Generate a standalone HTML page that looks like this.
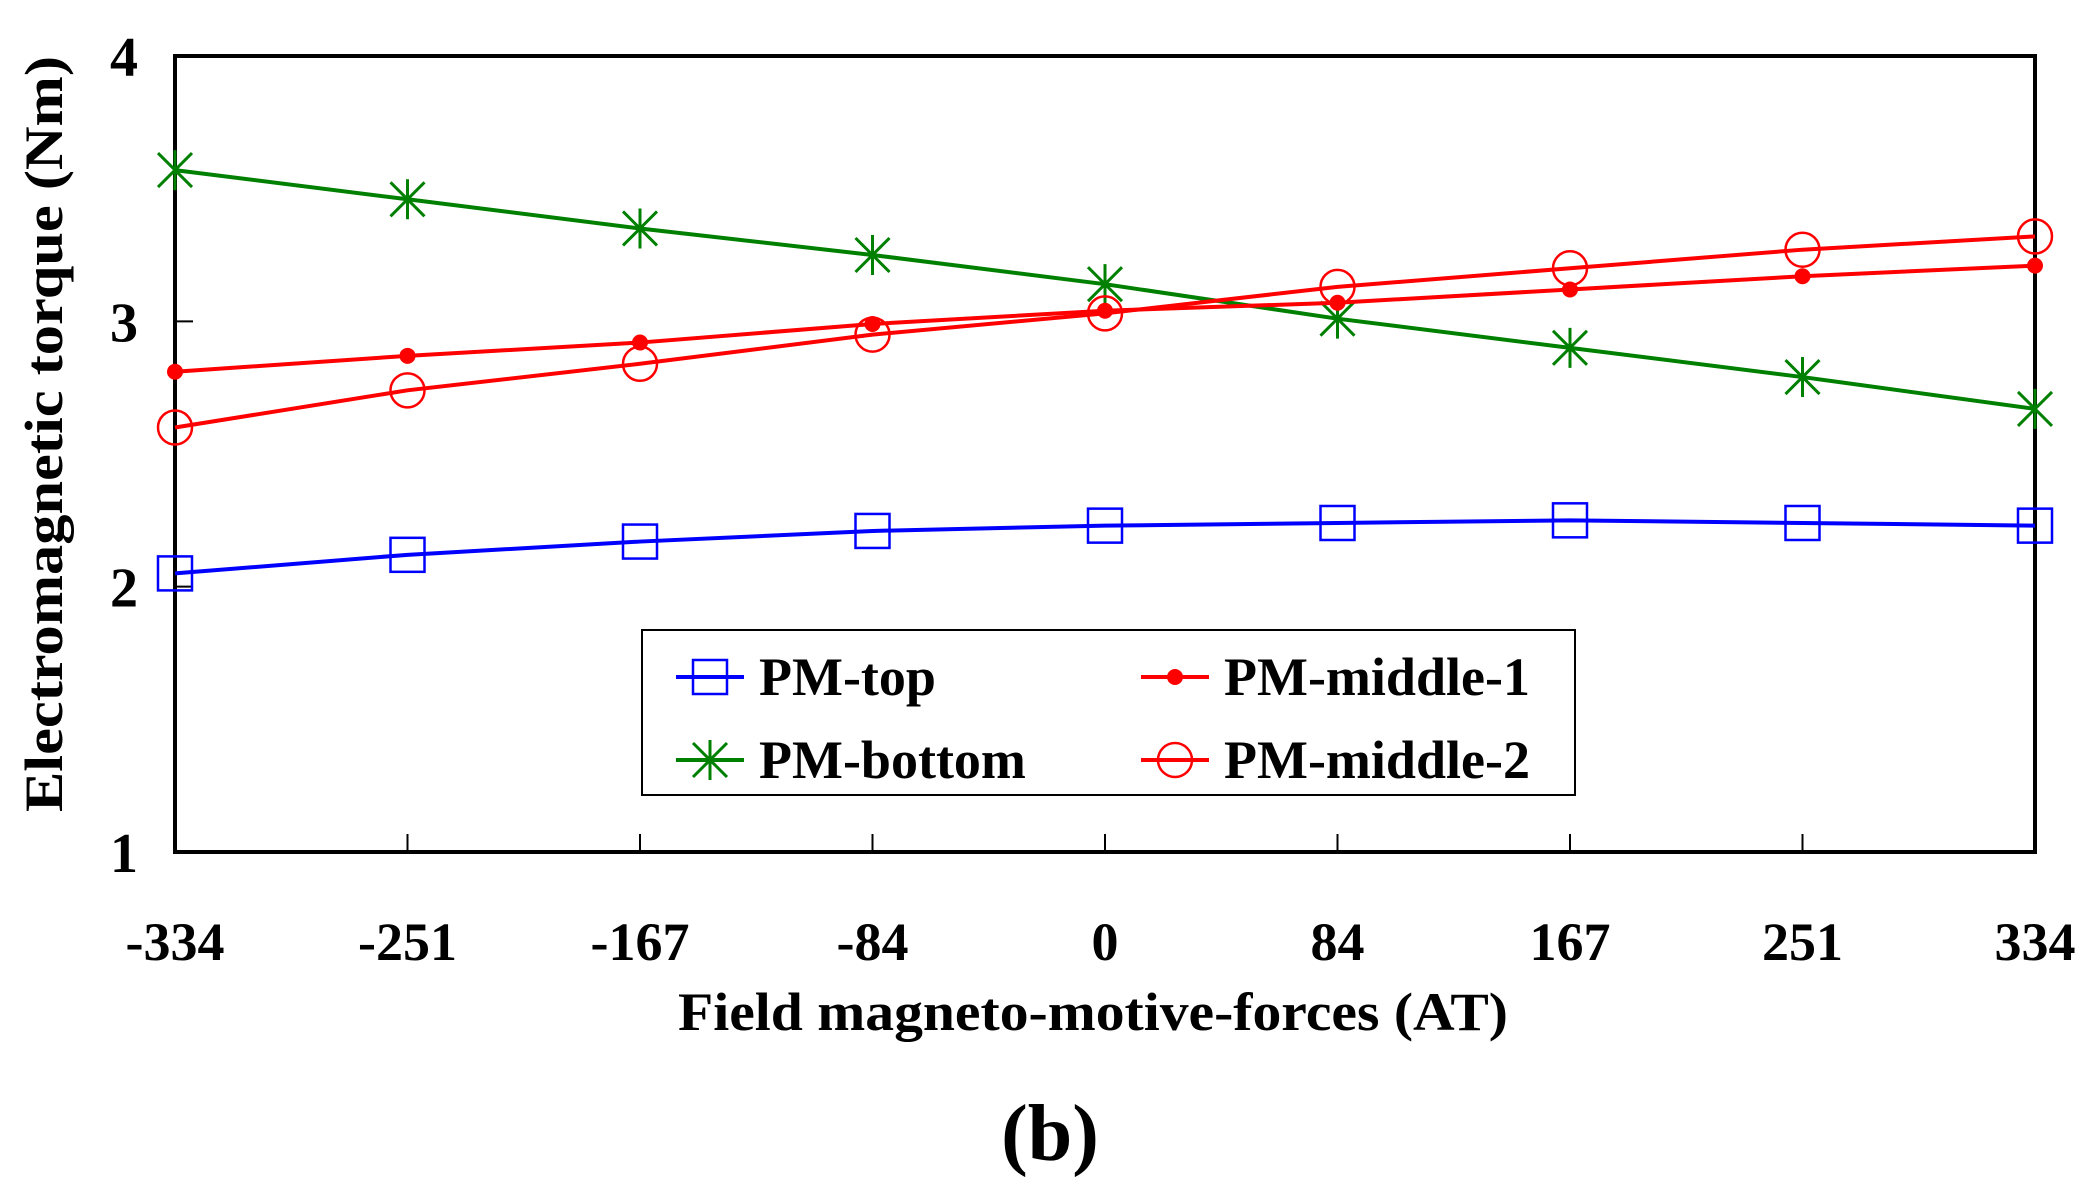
<!DOCTYPE html>
<html><head><meta charset="utf-8"><style>
html,body{margin:0;padding:0;background:#fff;}
svg{display:block;}
text{font-family:"Liberation Serif",serif;font-weight:bold;fill:#000;}
</style></head><body>
<svg id="chart" width="2098" height="1196" viewBox="0 0 2098 1196">
<rect x="175" y="56" width="1860" height="796" fill="none" stroke="#000" stroke-width="4"/>
<g id="axes"></g>
<g id="series"></g>
<text x="1093" y="1030" font-size="54" text-anchor="middle" textLength="830" lengthAdjust="spacingAndGlyphs">Field magneto-motive-forces (AT)</text>
<text transform="translate(62,434) rotate(-90)" font-size="54" text-anchor="middle" textLength="756" lengthAdjust="spacingAndGlyphs">Electromagnetic torque (Nm)</text>
<text x="1050" y="1160" font-size="80" text-anchor="middle">(b)</text>
<g>
<rect x="642" y="630" width="933" height="165" fill="#fff" stroke="#000" stroke-width="2"/>
<g id="legend"></g>
</g>
</svg>
<script>
const categories = [-334,-251,-167,-84,0,84,167,251,334];
const yTicks = [1,2,3,4];
const pmTop = [2.05,2.12,2.17,2.21,2.23,2.24,2.25,2.24,2.23];
const pmBottom = [3.57,3.46,3.35,3.25,3.14,3.01,2.90,2.79,2.67];
const pmMiddle1 = [2.81,2.87,2.92,2.99,3.04,3.07,3.12,3.17,3.21];
const pmMiddle2 = [2.60,2.74,2.84,2.95,3.03,3.13,3.20,3.27,3.32];

const NS='http://www.w3.org/2000/svg';
const X0=175,X1=2035,Y0=852,Y1=56;
function xs(i){return X0+(X1-X0)*i/(categories.length-1);}
function ys(v){return Y0-(v-1)/(4-1)*(Y0-Y1);}
function mk(tag,attrs,parent){const e=document.createElementNS(NS,tag);for(const k in attrs)e.setAttribute(k,attrs[k]);parent.appendChild(e);return e;}
const axes=document.getElementById('axes');
categories.forEach((c,i)=>{
  const t=mk('line',{x1:xs(i),x2:xs(i),y1:Y0,y2:Y0-18,stroke:'#000','stroke-width':2},axes);
  
  
  const l=mk('text',{x:xs(i),y:960,'font-size':54,'text-anchor':'middle'},axes);
  l.textContent=String(c);
  
  
});
yTicks.forEach(v=>{
  const t=mk('line',{x1:X0,x2:X0+18,y1:ys(v),y2:ys(v),stroke:'#000','stroke-width':2},axes);
  
  
  const l=mk('text',{x:138,y:ys(v)+20,'font-size':56,'text-anchor':'end'},axes);
  l.textContent=String(v);
  
  
});
function marker(type,x,y,color,parent){
  let g;
  if(type==='square'){g=mk('rect',{x:x-17,y:y-17,width:34,height:34,fill:'none',stroke:color,'stroke-width':2.5},parent);}
  else if(type==='circle'){g=mk('circle',{cx:x,cy:y,r:17,fill:'none',stroke:color,'stroke-width':2.5},parent);}
  else if(type==='dot'){g=mk('circle',{cx:x,cy:y,r:8,fill:color},parent);}
  else {g=mk('path',{d:`M${x-17},${y-17}L${x+17},${y+17}M${x+17},${y-17}L${x-17},${y+17}M${x},${y-20}L${x},${y+20}`,stroke:color,'stroke-width':3,fill:'none'},parent);}
  return g;
}
const series=[
  {name:'pm-top',vals:pmTop,color:'#0000ff',m:'square'},
  {name:'pm-bottom',vals:pmBottom,color:'#008000',m:'star'},
  {name:'pm-middle-1',vals:pmMiddle1,color:'#ff0000',m:'dot'},
  {name:'pm-middle-2',vals:pmMiddle2,color:'#ff0000',m:'circle'}
];
const sg=document.getElementById('series');
series.forEach(s=>{
  const g=mk('g',{},sg);
  
  
  const pts=s.vals.map((v,i)=>xs(i)+','+ys(v)).join(' ');
  const pl=mk('polyline',{points:pts,fill:'none',stroke:s.color,'stroke-width':4},g);
  
  
  s.vals.forEach((v,i)=>{
    const m=marker(s.m,xs(i),ys(v),s.color,g);
    
    
  });
});
const lg=document.getElementById('legend');
const entries=[
  {label:'PM-top',s:series[0],x:676,y:677},
  {label:'PM-middle-1',s:series[2],x:1141,y:677},
  {label:'PM-bottom',s:series[1],x:676,y:760},
  {label:'PM-middle-2',s:series[3],x:1141,y:760}
];
entries.forEach(e=>{
  const g=mk('g',{},lg);
  
  
  mk('line',{x1:e.x,x2:e.x+68,y1:e.y,y2:e.y,stroke:e.s.color,'stroke-width':4},g);
  marker(e.s.m,e.x+34,e.y,e.s.color,g);
  const t=mk('text',{x:e.x+83,y:e.y+18,'font-size':54},g);
  t.textContent=e.label;
});
</script>
</body></html>
